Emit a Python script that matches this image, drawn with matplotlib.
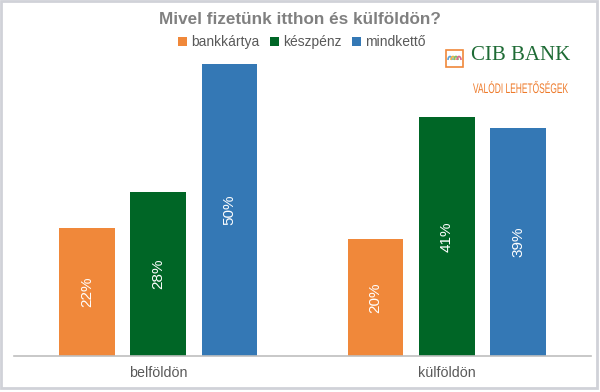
import numpy as np
import matplotlib
matplotlib.use('Agg')
import matplotlib.pyplot as plt
from matplotlib.patches import Rectangle, Arc, PathPatch
from matplotlib.textpath import TextPath
from matplotlib.font_manager import FontProperties
from matplotlib.transforms import Affine2D

## Data
categories = ['belföldön', 'külföldön']
series = ['bankkártya', 'készpénz', 'mindkettő']
bankkartya = [22, 20]
keszpenz = [28, 41]
mindketto = [50, 39]
colors = ['#F0883A', '#006626', '#3478B5']

plt.rcParams['font.family'] = ['Liberation Sans', 'DejaVu Sans']

fig = plt.figure(figsize=(6, 3.92), dpi=100)
ax = fig.add_axes([14/600, 1 - 356/392, 577/600, 292/392])

x = np.arange(len(categories))
width = 0.194
step = 0.247
for i, (vals, col) in enumerate(zip([bankkartya, keszpenz, mindketto], colors)):
    pos = x + (i - 1) * step
    bars = ax.bar(pos, vals, width, color=col, label=series[i], zorder=2)
    for b, v in zip(bars, vals):
        ax.text(b.get_x() + b.get_width() / 2, v / 2, '%d%%' % v, rotation=90,
                ha='center', va='center', color='white', fontsize=11)

ax.set_xlim(-0.5, 1.5)
ax.set_ylim(0, 50)
ax.set_yticks([])
ax.set_xticks(x)
ax.set_xticklabels(categories, color='#595959', fontsize=10.3)
ax.tick_params(axis='x', length=0, pad=7)
for s in ['top', 'right', 'left']:
    ax.spines[s].set_visible(False)
ax.spines['bottom'].set_color('#BFBFBF')
ax.spines['bottom'].set_linewidth(1.2)

## Title and legend
fig.text(0.5, 1 - 20/392, 'Mivel fizetünk itthon és külföldön?', ha='center', va='center',
         fontsize=12.3, fontweight='bold', color='#808080')
leg = fig.legend(loc='center', bbox_to_anchor=(0.503, 1 - 42/392), ncol=3, frameon=False,
                 fontsize=10, handlelength=0.6, handleheight=0.6, handletextpad=0.3,
                 columnspacing=0.8)
for t in leg.get_texts():
    t.set_color('#595959')

## Logo
fig.patches.append(Rectangle((446/600, 1 - 67/392), 17/600, 17/392, transform=fig.transFigure,
                             facecolor='white', edgecolor='#F0883A', linewidth=1.2))
arc_cols = ['#5BA3D9', '#E9B34A', '#7BBF6A', '#D96A8A']
for k, c in enumerate(arc_cols):
    cx = (450 + k * 3) / 600
    fig.patches.append(Arc((cx, 1 - 60/392), 4/600, 7/392, theta1=0, theta2=180,
                           transform=fig.transFigure, color=c, linewidth=1.2))
fig.text(471/600, 1 - 56/392, 'CIB BANK', ha='left', va='center', fontsize=15,
         family='Liberation Serif', color='#1E6B35')

## condensed slogan: text path squeezed horizontally
tp = TextPath((0, 0), 'VALÓDI LEHETŐSÉGEK', size=1,
              prop=FontProperties(family='Liberation Sans'))
ext = tp.get_extents()
sx = 95 / ext.width
sy = 10 / 0.72
tr = Affine2D().translate(-ext.x0, 0).scale(sx / 600, sy / 392).translate(473/600, (392 - 93)/392)
fig.patches.append(PathPatch(tp, transform=tr + fig.transFigure, facecolor='#EE7A2A',
                             edgecolor='none'))

## Border
fig.patches.append(Rectangle((1/600, 4/392), 596/600, 387/392, transform=fig.transFigure,
                             facecolor='none', edgecolor='#D0D2D8', linewidth=2))

fig.savefig('out.png', dpi=100)
